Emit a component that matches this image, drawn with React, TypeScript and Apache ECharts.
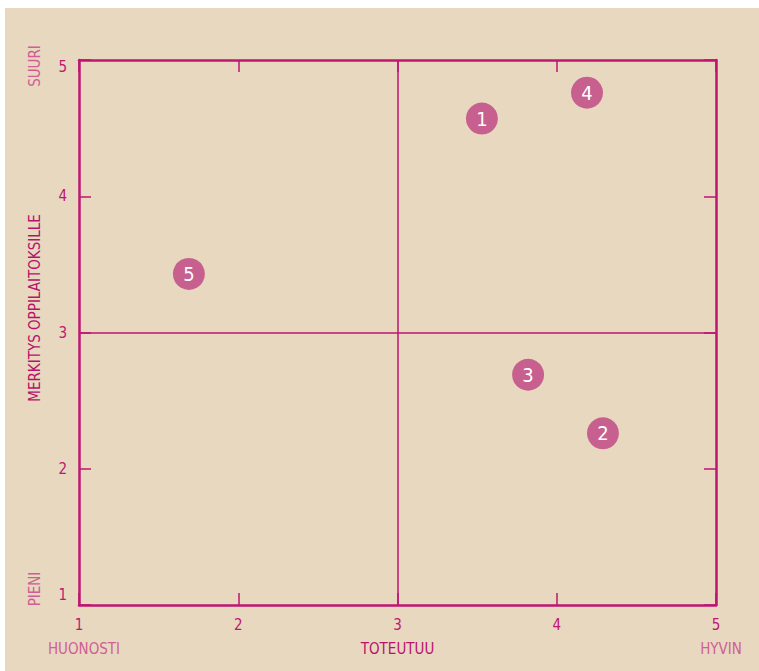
import React, { useEffect, useRef } from "react";
import * as echarts from "echarts";

const pointNames = ["1", "2", "3", "4", "5"];
const xValues = [3.53, 4.29, 3.82, 4.19, 1.69];
const yValues = [4.57, 2.26, 2.69, 4.76, 3.43];
const xTitle = "TOTEUTUU";
const yTitle = "MERKITYS OPPILAITOKSILLE";
const xLowLabel = "HUONOSTI";
const xHighLabel = "HYVIN";
const yLowLabel = "PIENI";
const yHighLabel = "SUURI";
const axisMin = 1;
const axisMax = 5;
const midValue = 3;

const MAG = "#be1673";
const LIGHT = "#cf5f95";
const FONT = "'DejaVu Sans Condensed', 'DejaVu Sans', sans-serif";

export default function App() {
  const ref = useRef<HTMLDivElement>(null);
  useEffect(() => {
    if (!ref.current) return;
    const chart = echarts.init(ref.current, undefined, { renderer: "svg" });
    const tickStyle = { show: true, inside: true, length: 12, lineStyle: { color: MAG, width: 1.5 } };
    const baseAxis = {
      type: "value" as const,
      min: axisMin,
      max: axisMax,
      interval: 1,
      splitLine: { show: false },
      axisLine: { show: true, lineStyle: { color: MAG, width: 2.5 } },
      axisTick: tickStyle,
    };
    chart.setOption({
      animation: false,
      backgroundColor: "#e7d8bf",
      textStyle: { fontFamily: FONT },
      grid: { left: 74, top: 52, right: 43, bottom: 66, show: false },
      xAxis: [
        {
          ...baseAxis,
          position: "bottom",
          name: xTitle,
          nameLocation: "middle",
          nameGap: 36,
          nameTextStyle: { color: "#b8126d", fontSize: 15, fontFamily: FONT },
          axisLabel: { color: MAG, fontSize: 15, margin: 12, fontFamily: FONT },
        },
        {
          ...baseAxis,
          position: "top",
          axisLabel: { show: false },
        },
      ],
      yAxis: [
        {
          ...baseAxis,
          position: "left",
          axisLabel: {
            color: MAG,
            fontSize: 15,
            margin: 12,
            fontFamily: FONT,
            formatter: (v: number) => (v === axisMax ? "{hi|" + v + "}" : v === axisMin ? "{lo|" + v + "}" : String(v)),
            rich: {
              hi: { color: MAG, fontSize: 15, fontFamily: FONT, padding: [14, 0, 0, 0] },
              lo: { color: MAG, fontSize: 15, fontFamily: FONT, padding: [0, 0, 20, 0] },
            },
          },
        },
        {
          ...baseAxis,
          position: "right",
          axisLabel: { show: false },
        },
      ],
      graphic: [
        { type: "text", x: 30, y: 300, rotation: Math.PI / 2, style: { text: yTitle, fill: "#b8126d", fontSize: 15, fontFamily: FONT, align: "center", verticalAlign: "middle" } },
        { type: "text", x: 30, y: 58, rotation: Math.PI / 2, style: { text: yHighLabel, fill: LIGHT, fontSize: 15, fontFamily: FONT, align: "center", verticalAlign: "middle" } },
        { type: "text", x: 30, y: 581, rotation: Math.PI / 2, style: { text: yLowLabel, fill: LIGHT, fontSize: 15, fontFamily: FONT, align: "center", verticalAlign: "middle" } },
        { type: "text", x: 79, y: 641, style: { text: xLowLabel, fill: LIGHT, fontSize: 15, fontFamily: FONT, align: "center", verticalAlign: "middle" } },
        { type: "text", x: 716, y: 641, style: { text: xHighLabel, fill: LIGHT, fontSize: 15, fontFamily: FONT, align: "center", verticalAlign: "middle" } },
      ],
      series: [
        {
          type: "scatter",
          symbolSize: 32,
          itemStyle: { color: "#c7608f", opacity: 1 },
          data: pointNames.map((n, i) => ({ value: [xValues[i], yValues[i]], name: n })),
          label: {
            show: true,
            position: "inside",
            formatter: (p: any) => p.name,
            color: "#ffffff",
            fontSize: 20,
            fontFamily: FONT,
          },
          markLine: {
            silent: true,
            symbol: ["none", "none"],
            label: { show: false },
            lineStyle: { color: MAG, width: 1.5, type: "solid" },
            data: [{ xAxis: midValue }, { yAxis: midValue }],
          },
        },
      ],
    });
    return () => chart.dispose();
  }, []);
  return (
    <div
      ref={ref}
      style={{ position: "absolute", left: 5, top: 8, width: 754, height: 663 }}
    />
  );
}
